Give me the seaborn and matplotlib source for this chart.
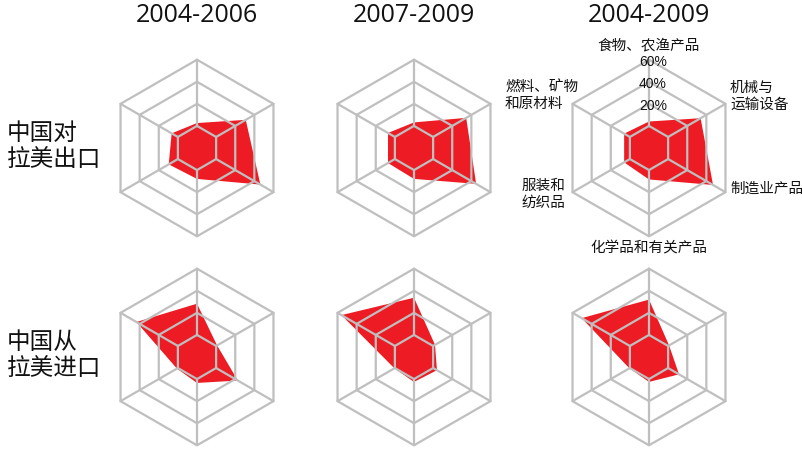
import numpy as np
import matplotlib
matplotlib.use('Agg')
import matplotlib.pyplot as plt
import seaborn as sns

# categories, clockwise from the top
categories = ['食物、农渔产品', '机械与\n运输设备', '制造业产品',
              '化学品和有关产品', '服装和\n纺织品', '燃料、矿物\n和原材料']
periods = ['2004-2006', '2007-2009', '2004-2009']
row_labels = ['中国对\n拉美出口', '中国从\n拉美进口']

# shares in %
export_0406 = [2.6, 31.0, 46.3, 8.0, 9.6, 6.5]
export_0709 = [3.2, 34.6, 45.0, 8.0, 7.2, 7.2]
export_0409 = [4.0, 34.0, 47.0, 8.5, 6.0, 6.0]
import_0406 = [28.3, 1.0, 22.7, 3.5, 1.0, 43.4]
import_0709 = [33.7, 2.0, 4.0, 2.6, 0.5, 55.9]
import_0409 = [32.0, 1.0, 11.4, 2.6, 0.5, 50.4]

ring_ticks = [0, 20, 40, 60]
tick_labels = ['20%', '40%', '60%']
axis_min = -20

sns.set_theme(style='white')
plt.rcParams['font.family'] = ['Noto Sans CJK SC', 'DejaVu Sans']

W, H = 802, 451
fig = plt.figure(figsize=(W / 100, H / 100), dpi=100)

grid_color = '#bfbfbf'
fill_color = '#ed1c24'
theta = np.deg2rad(90 - 60 * np.arange(6))
px_per_unit = 88.3 / (ring_ticks[-1] - axis_min)


def to_xy(values):
    r = np.asarray(values, dtype=float) - axis_min
    x = r * np.cos(theta)
    y = r * np.sin(theta)
    return np.append(x, x[0]), np.append(y, y[0])


def radar(cx, cy, values, half=100):
    ax = fig.add_axes([(cx - half) / W, 1 - (cy + half) / H, 2 * half / W, 2 * half / H])
    lim = half / px_per_unit
    ax.set_xlim(-lim, lim)
    ax.set_ylim(-lim, lim)
    ax.axis('off')
    x, y = to_xy(values)
    ax.fill(x, y, color=fill_color, lw=0, zorder=1)
    for t in ring_ticks:
        gx, gy = to_xy([t] * 6)
        ax.plot(gx, gy, color=grid_color, lw=1.6, zorder=2, solid_joinstyle='miter')
    # spokes run from the 0% ring to the outer ring
    ix, iy = to_xy([ring_ticks[0]] * 6)
    ox, oy = to_xy([ring_ticks[-1]] * 6)
    for i in range(6):
        ax.plot([ix[i], ox[i]], [iy[i], oy[i]], color=grid_color, lw=1.6, zorder=2)
    return ax


centers_x = [197, 414, 649]
centers_y = [148, 357]
data = [[export_0406, export_0709, export_0409],
        [import_0406, import_0709, import_0409]]

axes = {}
for r_i, cy in enumerate(centers_y):
    for c_i, cx in enumerate(centers_x):
        axes[(r_i, c_i)] = radar(cx, cy, data[r_i][c_i])

for cx, p in zip(centers_x, periods):
    fig.text(cx / W, 1 - 16 / H, p, ha='center', va='center', fontsize=18,
             family=['Open Sans', 'DejaVu Sans'], color='#111111')

for cy, lab in zip(centers_y, row_labels):
    fig.text(7 / W, 1 - (cy - 1) / H, lab, ha='left', va='center', fontsize=17,
             linespacing=1.25, color='#111111')

# category + percentage labels on the top-right chart
ax = axes[(0, 2)]
u = 1 / px_per_unit
label_pos = [(0, 103, 'center'), (81, 52, 'left'), (81, -41, 'left'),
             (0, -100, 'center'), (-84, -46, 'right'), (-144, 52, 'left')]
for (dx, dy, ha), cat in zip(label_pos, categories):
    ax.text(dx * u, dy * u, cat, ha=ha, va='center', fontsize=10.5,
            linespacing=1.25, color='#111111', clip_on=False)
for t, lab in zip(ring_ticks[1:], tick_labels):
    ax.text(4 * u, (t - axis_min) - 2 * u, lab, ha='center', va='center',
            fontsize=10, family=['Liberation Sans', 'DejaVu Sans'],
            color='#111111', zorder=5, clip_on=False)

fig.savefig('out.png', dpi=100)
